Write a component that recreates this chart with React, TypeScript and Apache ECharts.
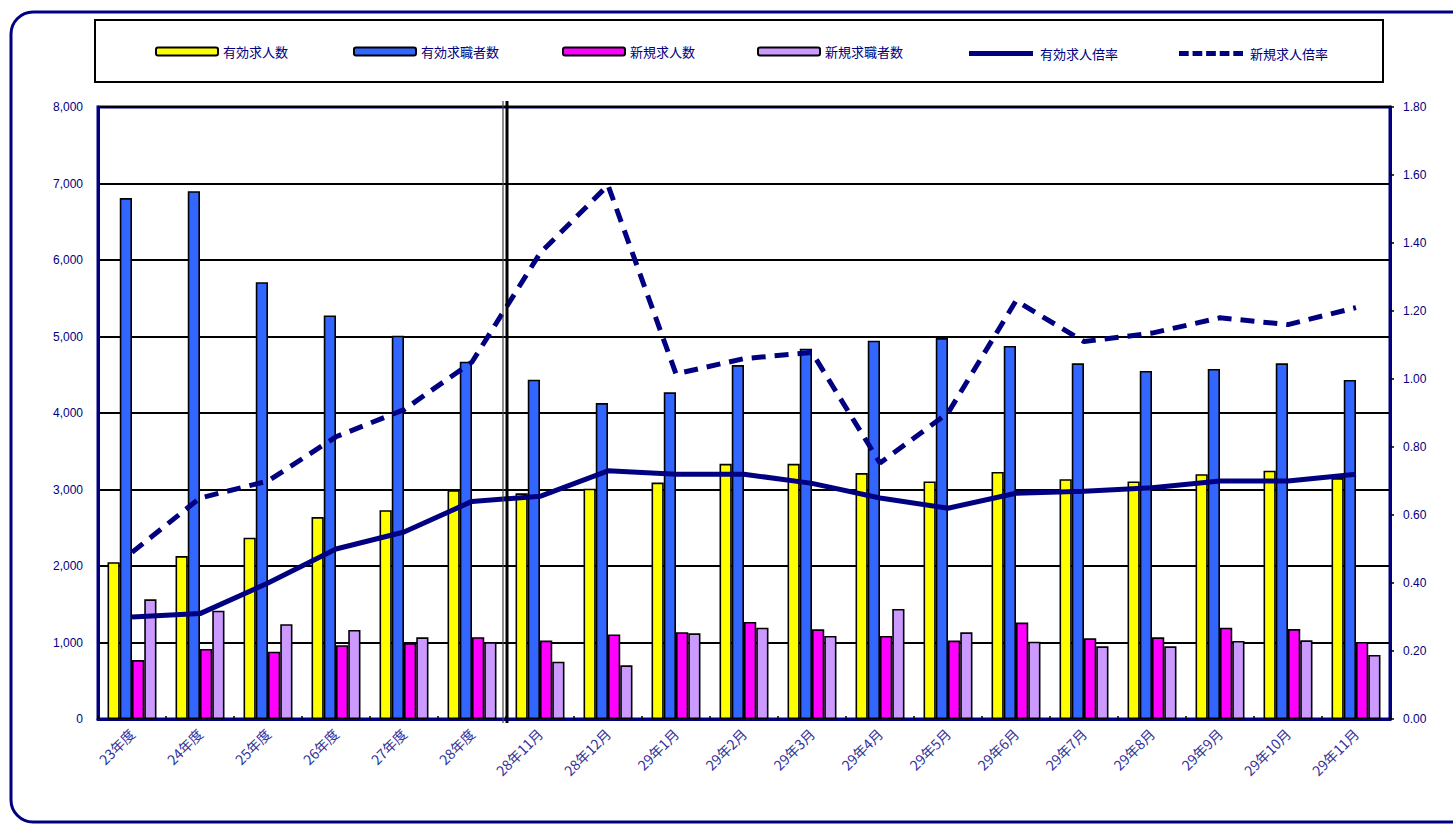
import React, { useEffect, useRef } from "react";
import * as echarts from "echarts";

const categories = ["23年度", "24年度", "25年度", "26年度", "27年度", "28年度", "28年11月", "28年12月", "29年1月", "29年2月", "29年3月", "29年4月", "29年5月", "29年6月", "29年7月", "29年8月", "29年9月", "29年10月", "29年11月"];
const effectiveOffers = [2050, 2130, 2370, 2640, 2730, 2990, 2950, 3010, 3090, 3335, 3335, 3215, 3105, 3230, 3135, 3105, 3200, 3245, 3150];
const effectiveSeekers = [6810, 6900, 5710, 5275, 5010, 4670, 4435, 4130, 4270, 4627, 4840, 4945, 4980, 4876, 4650, 4549, 4575, 4650, 4433];
const newOffers = [770, 915, 880, 965, 990, 1070, 1025, 1105, 1135, 1268, 1172, 1085, 1025, 1260, 1055, 1068, 1193, 1176, 1008];
const newSeekers = [1565, 1415, 1240, 1165, 1068, 1005, 750, 702, 1120, 1193, 1085, 1438, 1133, 1010, 950, 950, 1020, 1028, 838];
const effectiveRatio = [0.30, 0.31, 0.40, 0.50, 0.55, 0.64, 0.655, 0.73, 0.72, 0.72, 0.693, 0.65, 0.62, 0.664, 0.67, 0.68, 0.70, 0.70, 0.72];
const newRatio = [0.49, 0.65, 0.70, 0.83, 0.91, 1.05, 1.37, 1.57, 1.015, 1.06, 1.078, 0.753, 0.90, 1.23, 1.11, 1.135, 1.18, 1.16, 1.21];
const leftTicks = { min: 0, max: 8000, interval: 1000 };
const rightTicks = { min: 0, max: 1.8, interval: 0.2 };

const NAMES = ["有効求人数", "有効求職者数", "新規求人数", "新規求職者数", "有効求人倍率", "新規求人倍率"];
const LEG_LEFT = [155, 353, 562, 757, 969, 1179];
const NAVY = "#000080";
const FONT = "'Noto Sans CJK JP', 'Noto Sans', sans-serif";
const DASH_ICON = "path://M0,0h10v5h-10z M14,0h10v5h-10z M28,0h10v5h-10z M42,0h10v5h-10z M56,0h10v5h-10z";
const SOLID_ICON = "path://M0,0h66v5h-66z";

export default function App() {
  const ref = useRef<HTMLDivElement>(null);
  useEffect(() => {
    if (!ref.current) return;
    const chart = echarts.init(ref.current, undefined, { renderer: "svg" });
    const barStyle = (c: string) => ({ color: c, borderColor: "#000", borderWidth: 1.6 });
    const option: any = {
      animation: false,
      backgroundColor: "#fff",
      textStyle: { fontFamily: FONT },
      legend: NAMES.map((n, i) => ({
        data: i < 4 ? [n] : [{ name: n, icon: i === 4 ? SOLID_ICON : DASH_ICON }],
        left: LEG_LEFT[i],
        top: i < 4 ? 45 : 47,
        itemWidth: i < 4 ? 62 : 64,
        itemHeight: i < 4 ? 8 : 5,
        padding: 0,
        selectedMode: false,
        textStyle: { fontSize: 13, color: NAVY, fontFamily: FONT, padding: i < 4 ? 0 : [0, 0, 0, 2] },
        itemStyle: i < 4 ? { borderColor: "#000", borderWidth: 2 } : { color: NAVY, borderWidth: 0 },
      })),
      grid: { left: 98, right: 63, top: 107, bottom: 105, show: true, borderColor: NAVY, borderWidth: 3, backgroundColor: "transparent" },
      xAxis: {
        type: "category",
        data: categories,
        axisLine: { lineStyle: { color: NAVY, width: 3 } },
        axisTick: { show: true, inside: true, length: 3, lineStyle: { color: "#000", width: 1.5 } },
        axisLabel: { rotate: 45, color: "#333399", fontSize: 14, margin: 12, fontFamily: FONT },
        splitLine: { show: false },
      },
      yAxis: [
        {
          type: "value",
          ...leftTicks,
          axisLine: { show: true, lineStyle: { color: NAVY, width: 3 } },
          axisTick: { show: false },
          axisLabel: {
            color: NAVY, fontSize: 12, margin: 15, fontFamily: "'Liberation Sans', Arial, sans-serif",
            formatter: (v: number) => v.toLocaleString("en-US"),
          },
          splitLine: { lineStyle: { color: "#000", width: 2 } },
        },
        {
          type: "value",
          ...rightTicks,
          position: "right",
          axisLine: { show: true, lineStyle: { color: NAVY, width: 3 } },
          axisTick: { show: true, length: 4, lineStyle: { color: "#000", width: 1.5 } },
          axisLabel: { color: NAVY, fontSize: 12, margin: 13, fontFamily: "'Liberation Sans', Arial, sans-serif", formatter: (v: number) => v.toFixed(2) },
          splitLine: { show: false },
        },
      ],
      series: [
        { name: NAMES[0], type: "bar", data: effectiveOffers, itemStyle: barStyle("#FFFF00"), barGap: "0%", barCategoryGap: "28%" },
        { name: NAMES[1], type: "bar", data: effectiveSeekers, itemStyle: barStyle("#3366FF") },
        { name: NAMES[2], type: "bar", data: newOffers, itemStyle: barStyle("#FF00FF") },
        { name: NAMES[3], type: "bar", data: newSeekers, itemStyle: barStyle("#CC99FF") },
        { name: NAMES[4], type: "line", yAxisIndex: 1, data: effectiveRatio, symbol: "none", lineStyle: { color: NAVY, width: 5 }, itemStyle: { color: NAVY }, z: 5 },
        { name: NAMES[5], type: "line", yAxisIndex: 1, data: newRatio, symbol: "none", lineStyle: { color: NAVY, width: 5, type: [14, 9] }, itemStyle: { color: NAVY }, z: 5 },
      ],
    };
    chart.setOption(option);
    const xa = chart.convertToPixel({ xAxisIndex: 0 }, categories[5]) as number;
    const xb = chart.convertToPixel({ xAxisIndex: 0 }, categories[6]) as number;
    const mid = (xa + xb) / 2;
    const yTop = chart.convertToPixel({ yAxisIndex: 0 }, leftTicks.max) as number;
    const yBot = chart.convertToPixel({ yAxisIndex: 0 }, leftTicks.min) as number;
    chart.setOption({
      graphic: [
        { type: "rect", z: -1, silent: true, shape: { x: 11, y: 12, width: 1470, height: 810, r: 22 }, style: { fill: "none", stroke: NAVY, lineWidth: 3 } },
        { type: "rect", z: 0, silent: true, shape: { x: 95, y: 20, width: 1288, height: 62 }, style: { fill: "none", stroke: "#000", lineWidth: 2 } },
        { type: "line", z: 10, silent: true, shape: { x1: mid - 3, y1: yTop - 6, x2: mid - 3, y2: yBot + 4 }, style: { stroke: "#444", lineWidth: 1.2 } },
        { type: "line", z: 10, silent: true, shape: { x1: mid + 1, y1: yTop - 6, x2: mid + 1, y2: yBot + 4 }, style: { stroke: "#000", lineWidth: 3 } },
      ],
    });
    return () => chart.dispose();
  }, []);
  return <div ref={ref} style={{ position: "fixed", left: 0, top: 0, width: 1453, height: 824 }} />;
}
